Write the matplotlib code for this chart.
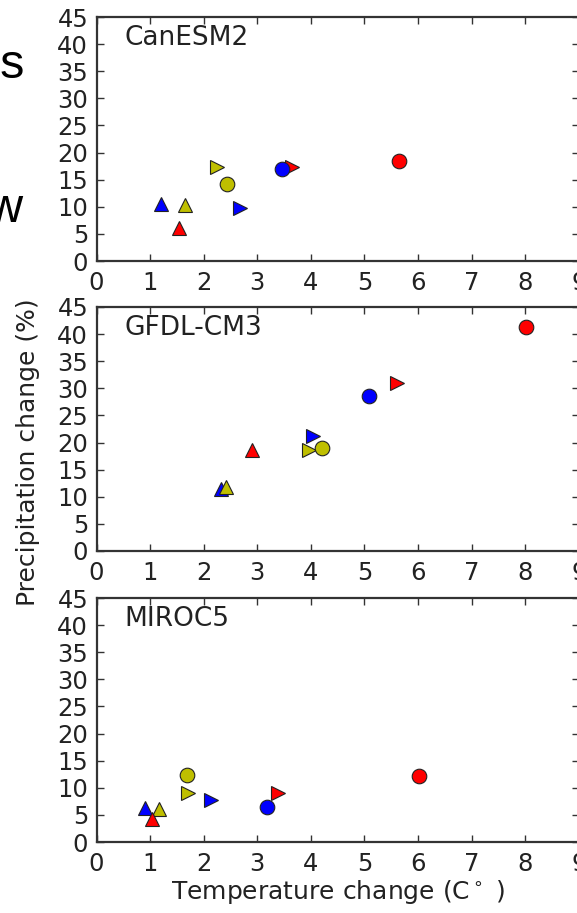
import matplotlib
matplotlib.use("Agg")
import matplotlib.pyplot as plt

MODELS = ["CanESM2", "GFDL-CM3", "MIROC5"]
COLORS = ["#0000ff", "#bfbf00", "#ff0000"]   # one per scenario
MARKERS = ["^", ">", "o"]                    # one per period

# temperature change (C) per model -> period -> scenario
TEMP = {
    "CanESM2":  [[1.20, 1.66, 1.53], [2.68, 2.24, 3.64], [3.47, 2.44, 5.65]],
    "GFDL-CM3": [[2.32, 2.42, 2.91], [4.03, 3.97, 5.60], [5.08, 4.20, 8.01]],
    "MIROC5":   [[0.90, 1.17, 1.03], [2.14, 1.70, 3.38], [3.18, 1.69, 6.02]],
}

# precipitation change (%) per model -> period -> scenario
PRECIP = {
    "CanESM2":  [[10.6, 10.3, 6.0], [9.8, 17.3, 17.4], [17.0, 14.2, 18.5]],
    "GFDL-CM3": [[11.5, 11.8, 18.6], [21.3, 18.7, 30.9], [28.6, 19.0, 41.4]],
    "MIROC5":   [[6.2, 6.05, 4.3], [7.8, 9.0, 9.0], [6.4, 12.4, 12.1]],
}

X_TICKS = list(range(0, 10))
Y_TICKS = list(range(0, 50, 5))

W, H = 577, 913
fig = plt.figure(figsize=(W / 100, H / 100), dpi=100)

left = 96.5 / W
width = 482.4 / W
panel_h = 244 / H
bottoms = [(H - 261) / H, (H - 551) / H, (H - 842) / H]

for name, bottom in zip(MODELS, bottoms):
    ax = fig.add_axes([left, bottom, width, panel_h])
    for p, marker in enumerate(MARKERS):
        for s, color in enumerate(COLORS):
            ax.plot(TEMP[name][p][s], PRECIP[name][p][s], marker=marker,
                    color=color, markeredgecolor="#222222", markeredgewidth=0.8,
                    markersize=10.5, linestyle="none")
    ax.set_xlim(0, 9)
    ax.set_ylim(0, 45)
    ax.set_xticks(X_TICKS)
    ax.set_yticks(Y_TICKS)
    ax.tick_params(direction="in", top=True, right=True, length=5, width=1,
                   color="#333333", labelsize=17.5, labelcolor="#222222")
    ax.tick_params(axis="y", pad=6)
    ax.tick_params(axis="x", pad=7)
    for sp in ax.spines.values():
        sp.set_linewidth(1.6)
        sp.set_color("#333333")
    ax.text(0.058, 0.886, name, transform=ax.transAxes, fontsize=19,
            color="#222222", va="baseline", ha="left")

fig.text(28 / W, 1 - 452 / H, "Precipitation change (%)", rotation=90,
         ha="center", va="center", fontsize=18, color="#222222")
fig.text(338 / W, 1 - 892 / H, r"Temperature change ($\mathrm{C}^\circ$ )",
         ha="center", va="center", fontsize=18, color="#222222")

# pieces of neighbouring labels at the left margin
fig.text(25.5 / W, 1 - 78 / H, "es", ha="right", va="baseline",
         fontsize=35, family="Liberation Sans", color="black")
fig.text(22 / W, 1 - 222 / H, "w", ha="right", va="baseline",
         fontsize=35, family="Liberation Sans", color="black")

fig.savefig("out.png", dpi=100)
